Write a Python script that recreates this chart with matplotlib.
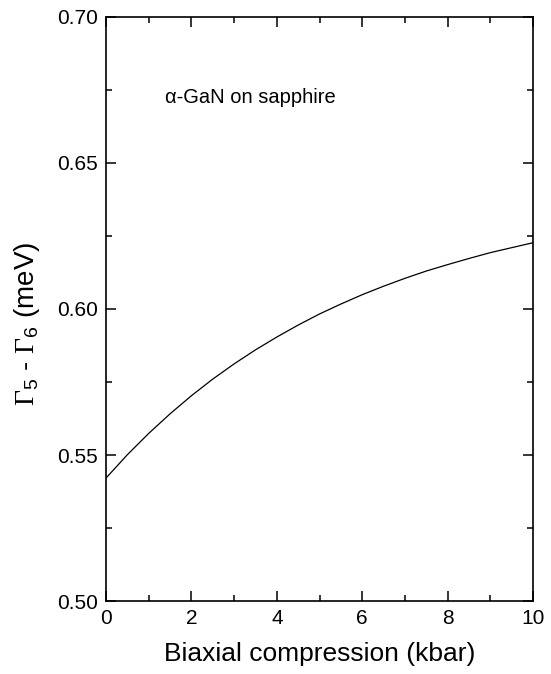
import numpy as np
import matplotlib
matplotlib.use("Agg")
import matplotlib.pyplot as plt
from matplotlib.ticker import MultipleLocator

plt.rcParams['font.family'] = ['Liberation Sans', 'DejaVu Sans']
plt.rcParams['mathtext.fontset'] = 'custom'
plt.rcParams['mathtext.rm'] = 'Liberation Serif'
plt.rcParams['mathtext.sf'] = 'Liberation Sans'

# curve values
compression = [0, 0.5, 1, 1.5, 2, 2.5, 3, 3.5, 4, 4.5, 5, 5.5, 6, 6.5, 7, 7.5,
               8, 8.5, 9, 9.5, 10]
splitting = [0.5421, 0.5501, 0.5574, 0.5641, 0.5703, 0.5760, 0.5812, 0.5860,
             0.5904, 0.5945, 0.5983, 0.6017, 0.6049, 0.6078, 0.6105, 0.6130,
             0.6152, 0.6173, 0.6193, 0.6210, 0.6227]

x_ticks = [0, 2, 4, 6, 8, 10]
y_ticks = [0.50, 0.55, 0.60, 0.65, 0.70]

fig = plt.figure(figsize=(5.51, 6.74), dpi=100)
ax = fig.add_axes([0.1924, 0.1083, 0.775, 0.8665])

ax.plot(compression, splitting, color='black', lw=0.9)

ax.set_xlim(0, 10)
ax.set_ylim(0.50, 0.70)
ax.set_xticks(x_ticks)
ax.set_yticks(y_ticks)
ax.set_yticklabels(['%.2f' % v for v in y_ticks])
ax.xaxis.set_minor_locator(MultipleLocator(1))
ax.yaxis.set_minor_locator(MultipleLocator(0.025))
ax.tick_params(which='both', direction='in', top=True, right=True,
               labelsize=15, width=1.1, pad=6)
ax.tick_params(which='major', length=7)
ax.tick_params(which='minor', length=4)
for s in ax.spines.values():
    s.set_linewidth(1.2)

ax.set_xlabel('Biaxial compression (kbar)', fontsize=19, labelpad=10)
ax.set_ylabel(r'$\Gamma_{\mathsf{5}}$ - $\Gamma_{\mathsf{6}}$ (meV)', fontsize=20)
ax.yaxis.set_label_coords(-0.15, 0.475)

ax.text(1.38, 0.6723, 'α-GaN on sapphire', fontsize=14.5, va='center',
        ha='left')

fig.savefig('out.png', dpi=100)
